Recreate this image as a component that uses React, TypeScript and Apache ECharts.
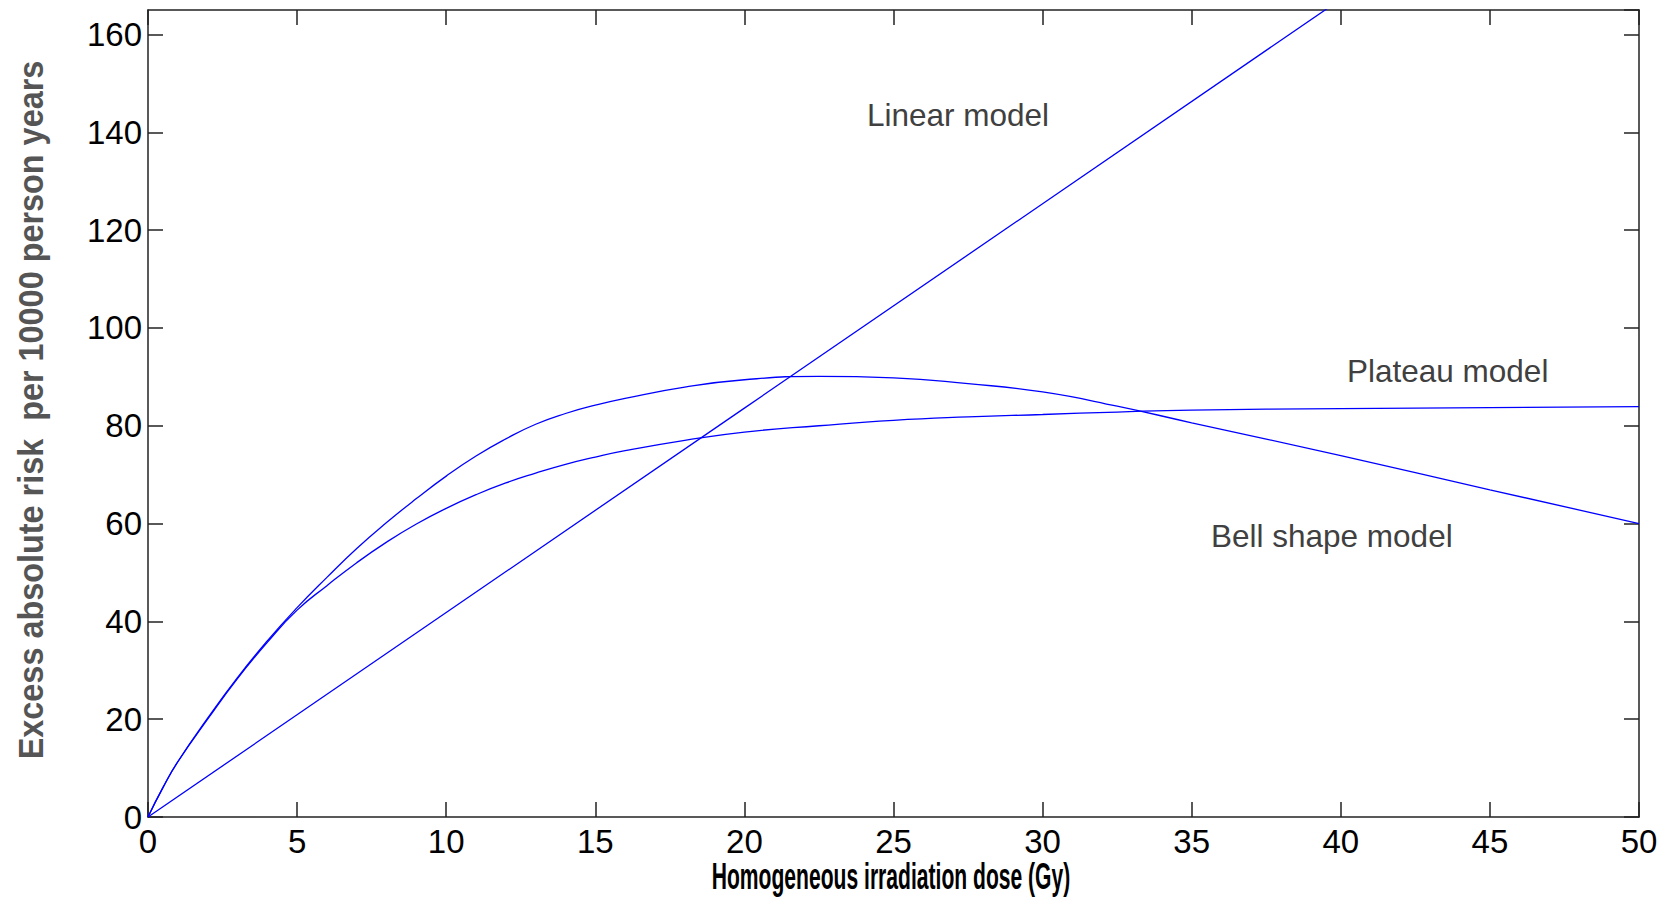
import React, { useEffect, useRef } from "react";
import * as echarts from "echarts";

// Dose (Gy) sample points for the curved models
const doses = [0, 0.5, 1, 2, 3, 4, 5, 6, 7, 8, 9, 10, 11, 12, 13, 14, 15, 16, 18, 20, 22.5, 25, 27.5, 30, 32.5, 35, 40, 45, 50];
// Bell shape model: excess absolute risk per 10000 PY
const bellRisk = [0, 6.0, 11.3, 20.2, 28.5, 36.0, 42.8, 49.0, 54.9, 60.2, 65.1, 69.7, 73.8, 77.3, 80.3, 82.5, 84.2, 85.6, 87.9, 89.4, 90.1, 89.8, 88.6, 86.9, 84.0, 80.6, 73.9, 66.9, 60.0];
// Plateau model
const plateauRisk = [0, 6.0, 11.3, 20.0, 28.3, 35.7, 42.3, 47.3, 52.0, 56.2, 59.9, 63.1, 65.9, 68.3, 70.3, 72.1, 73.6, 74.9, 77.0, 78.7, 80.0, 81.1, 81.8, 82.3, 82.8, 83.2, 83.5, 83.7, 83.9];
// Linear model
const linearDoses = [0, 10, 20, 30, 40];
const linearRisk = [0, 41.8, 83.6, 125.4, 167.2];

const xTicks = { min: 0, max: 50, interval: 5 };
const yTicks = { min: 0, max: 165, interval: 20 };

const modelLabels = ["Linear model", "Plateau model", "Bell shape model"];
const xTitle = "Homogeneous irradiation dose (Gy)";
const yTitle = "Excess absolute risk  per 10000 person years";

const zip = (xs: number[], ys: number[]) => xs.map((x, i) => [x, ys[i]]);

export default function App() {
  const ref = useRef<HTMLDivElement>(null);
  useEffect(() => {
    if (!ref.current) return;
    const chart = echarts.init(ref.current, null, { renderer: "svg" });
    const axisColor = "#222";
    const font = "'Liberation Sans', Arial, sans-serif";
    const baseX = {
      type: "value",
      min: xTicks.min,
      max: xTicks.max,
      interval: xTicks.interval,
      splitLine: { show: false },
      axisLine: { show: true, onZero: false, lineStyle: { color: axisColor, width: 1.5 } },
      axisTick: { show: true, inside: true, length: 15, lineStyle: { color: axisColor, width: 1.5 } },
    };
    const baseY = {
      type: "value",
      min: yTicks.min,
      max: yTicks.max,
      interval: yTicks.interval,
      splitLine: { show: false },
      axisLine: { show: true, onZero: false, lineStyle: { color: axisColor, width: 1.5 } },
      axisTick: { show: true, inside: true, length: 15, lineStyle: { color: axisColor, width: 1.5 } },
    };
    const lineStyle = { color: "#0000ff", width: 1.3 };
    chart.setOption({
      animation: false,
      backgroundColor: "#ffffff",
      grid: { left: 148, right: 29, top: 10, bottom: 83, containLabel: false },
      xAxis: [
        {
          ...baseX,
          position: "bottom",
          axisLabel: { color: "#000", fontSize: 33, fontFamily: font, margin: 8, showMaxLabel: true, showMinLabel: true },
        },
        { ...baseX, position: "top", axisLabel: { show: false } },
      ],
      yAxis: [
        {
          ...baseY,
          position: "left",
          axisLabel: { color: "#000", fontSize: 33, fontFamily: font, margin: 6, showMaxLabel: false },
        },
        { ...baseY, position: "right", axisLabel: { show: false } },
      ],
      series: [
        {
          name: modelLabels[0],
          type: "line",
          data: zip(linearDoses, linearRisk),
          showSymbol: false,
          clip: true,
          lineStyle,
          itemStyle: { color: "#0000ff" },
        },
        {
          name: modelLabels[1],
          type: "line",
          data: zip(doses, plateauRisk),
          smooth: 0.5,
          showSymbol: false,
          clip: true,
          lineStyle,
          itemStyle: { color: "#0000ff" },
        },
        {
          name: modelLabels[2],
          type: "line",
          data: zip(doses, bellRisk),
          smooth: 0.5,
          showSymbol: false,
          clip: true,
          lineStyle,
          itemStyle: { color: "#0000ff" },
        },
      ],
      graphic: [
        {
          type: "text",
          x: 867,
          y: 115,
          style: { text: modelLabels[0], fontSize: 31.5, fontFamily: font, fill: "#404040", textAlign: "left", textVerticalAlign: "middle" },
        },
        {
          type: "text",
          x: 1347,
          y: 371,
          style: { text: modelLabels[1], fontSize: 31.5, fontFamily: font, fill: "#404040", textAlign: "left", textVerticalAlign: "middle" },
        },
        {
          type: "text",
          x: 1211,
          y: 536,
          style: { text: modelLabels[2], fontSize: 31.5, fontFamily: font, fill: "#404040", textAlign: "left", textVerticalAlign: "middle" },
        },
        {
          type: "text",
          x: 891,
          y: 876,
          scaleX: 0.57,
          style: { text: xTitle, fontSize: 37, fontWeight: "bold", fontFamily: font, fill: "#000", textAlign: "center", textVerticalAlign: "middle" },
        },
        {
          type: "text",
          x: 30,
          y: 410,
          rotation: Math.PI / 2,
          scaleX: 0.9,
          style: { text: yTitle, fontSize: 36, fontWeight: "bold", fontFamily: font, fill: "#555555", textAlign: "center", textVerticalAlign: "middle" },
        },
      ],
    });
    return () => chart.dispose();
  }, []);
  return <div ref={ref} style={{ position: "fixed", left: 0, top: 0, width: 1668, height: 900 }} />;
}
